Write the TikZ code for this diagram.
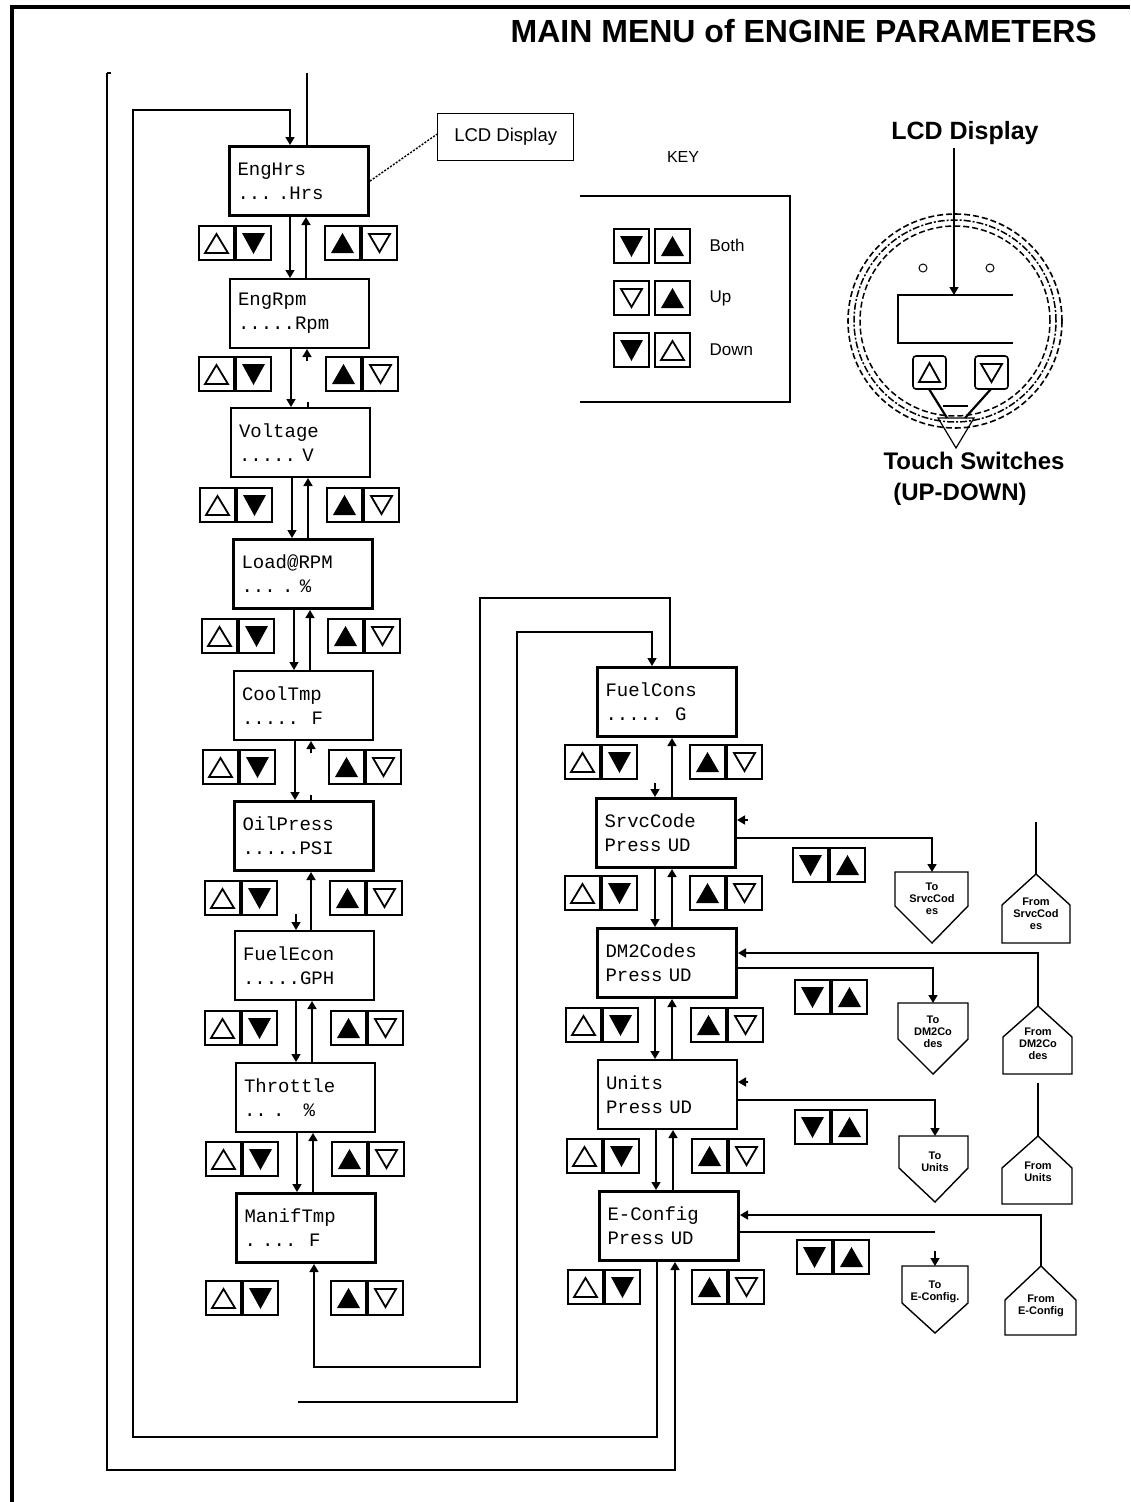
\documentclass[tikz,border=0pt]{standalone}
\usepackage{fontspec}
\setmainfont{Liberation Sans}
\newfontfamily\lcdfont{Liberation Mono}
\usetikzlibrary{arrows.meta}

\newcommand\LPair[2]{\pic at (#1,#2) {btnuo}; \pic at (#1+37,#2) {btndf};}
\newcommand\RPair[2]{\pic at (#1,#2) {btnuf}; \pic at (#1+37,#2) {btndo};}
\newcommand\SPair[2]{\pic at (#1,#2) {btndf}; \pic at (#1+37,#2) {btnuf};}
\newcommand\DownC[3]{\draw[arr] ([xshift=#3pt]#1.south west) -- ([xshift=#3pt]#1.south west |- #2.north);}
\newcommand\UpC[3]{\draw[arr] ([xshift=#3pt]#1.south west |- #2.north) -- ([xshift=#3pt]#1.south west);}
\newcommand\ToPent[9]{\draw[pent] (#2,#4) -- (#3,#4) -- (#3,#5) -- (#6,#7) -- (#2,#5) -- cycle;
  \coordinate (#1t) at (#6,#4); \node[tofrom] (#1) at (#6,#8) {#9};}
\newcommand\FromPent[9]{\draw[pent] (#4,#5) -- (#3,#6) -- (#3,#7) -- (#2,#7) -- (#2,#6) -- cycle;
  \coordinate (#1a) at (#4,#5); \node[tofrom] (#1) at (#4,#8) {#9};}

\tikzset{
  conn/.style={line width=1.6pt},
  arr/.style={conn, -{Triangle[length=8pt,width=9pt]}},
  lcd/.style={draw, anchor=north west, minimum width=139pt, minimum height=69pt,
    text width=123pt, inner xsep=8pt, inner ysep=0pt, align=left,
    font=\lcdfont\fontsize{19}{24}\selectfont},
  thk/.style={line width=3pt},
  med/.style={line width=2pt},
  pent/.style={line width=1.4pt, line join=miter},
  tofrom/.style={font=\bfseries\fontsize{11}{12}\selectfont, align=center, inner sep=0pt},
  btnframe/.style={line width=1.6pt},
  btnuo/.pic={\draw[btnframe] (0,0) rectangle (35,34); \draw[line width=1.8pt] (6,27) -- (29,27) -- (17.5,8) -- cycle;},
  btndf/.pic={\draw[btnframe] (0,0) rectangle (35,34); \fill (6,7) -- (29,7) -- (17.5,28) -- cycle;},
  btnuf/.pic={\draw[btnframe] (0,0) rectangle (35,34); \fill (6,27) -- (29,27) -- (17.5,7) -- cycle;},
  btndo/.pic={\draw[btnframe] (0,0) rectangle (35,34); \draw[line width=1.8pt] (7,8) -- (28,8) -- (17.5,26) -- cycle;},
}

\begin{document}
\begin{tikzpicture}[x=1pt,y=-1pt]
\useasboundingbox (0,0) rectangle (1130,1502);
\fill[white] (0,0) rectangle (1130,1502);

% frame
\draw[line width=3.5pt] (12,1502) -- (12,7) -- (1130,7);

% title
\node[anchor=east, font=\bfseries\fontsize{32}{32}\selectfont, inner sep=0pt] (title) at (1097,31) {MAIN MENU of ENGINE PARAMETERS};

% left column LCD boxes
\node[lcd,thk] (b0) at (228,145)  {EngHrs\\...~.Hrs};
\node[lcd,med] (b1) at (229,278)  {EngRpm\\.....Rpm};
\node[lcd,med] (b2) at (230,407)  {Voltage\\.....~V};
\node[lcd,thk] (b3) at (232,538)  {Load@RPM\\...~.~\%};
\node[lcd,med] (b4) at (233,670)  {CoolTmp\\.....~~F};
\node[lcd,thk] (b5) at (233,800)  {OilPress\\.....PSI};
\node[lcd,med] (b6) at (234,930)  {FuelEcon\\.....GPH};
\node[lcd,med] (b7) at (235,1062) {Throttle\\..~.~~~\%};
\node[lcd,thk] (b8) at (235,1192) {ManifTmp\\.~...~~F};

% right column LCD boxes
\node[lcd,thk] (r0) at (596,666)  {FuelCons\\.....~~G};
\node[lcd,thk] (r1) at (595,797)  {SrvcCode\\Press~UD};
\node[lcd,thk] (r2) at (596,927)  {DM2Codes\\Press~UD};
\node[lcd,med] (r3) at (597,1059) {Units\\Press~UD};
\node[lcd,thk] (r4) at (598,1190) {E-Config\\Press~UD};

% left column buttons
\LPair{199}{226}  \RPair{325}{226}
\LPair{199}{357}  \RPair{326}{357}
\LPair{200}{488}  \RPair{327}{488}
\LPair{202}{619}  \RPair{328}{619}
\LPair{203}{750}  \RPair{329}{750}
\LPair{205}{881}  \RPair{330}{881}
\LPair{205}{1011} \RPair{331}{1011}
\LPair{206}{1142} \RPair{332}{1142}
\LPair{206}{1281} \RPair{331}{1281}

% right column buttons
\LPair{565}{745}  \RPair{690}{745}
\LPair{565}{876}  \RPair{690}{876}
\LPair{566}{1008} \RPair{691}{1008}
\LPair{567}{1139} \RPair{692}{1139}
\LPair{568}{1270} \RPair{692}{1270}

% side button pairs
\SPair{793}{848}
\SPair{795}{980}
\SPair{795}{1110}
\SPair{797}{1240}

% left column vertical connectors
\DownC{b0}{b1}{62} \UpC{b0}{b1}{78}
\DownC{b1}{b2}{62}
\draw[arr] ([xshift=78pt,yshift=-12pt]b1.south west) -- ([xshift=78pt]b1.south west);
\draw[conn] ([xshift=78pt]b2.north west) -- ([xshift=78pt,yshift=5pt]b2.north west);
\DownC{b2}{b3}{62} \UpC{b2}{b3}{78}
\DownC{b3}{b4}{62} \UpC{b3}{b4}{78}
\DownC{b4}{b5}{62}
\draw[arr] ([xshift=78pt,yshift=-12pt]b4.south west) -- ([xshift=78pt]b4.south west);
\draw[conn] ([xshift=78pt]b5.north west) -- ([xshift=78pt,yshift=5pt]b5.north west);
\draw[arr] ([xshift=62pt,yshift=16pt]b6.north west) -- ([xshift=62pt]b6.north west);
\UpC{b5}{b6}{78}
\DownC{b6}{b7}{62} \UpC{b6}{b7}{78}
\DownC{b7}{b8}{62} \UpC{b7}{b8}{78}

% right column vertical connectors
\draw[arr] ([xshift=60pt,yshift=14pt]r1.north west) -- ([xshift=60pt]r1.north west);
\UpC{r0}{r1}{76}
\DownC{r1}{r2}{60} \UpC{r1}{r2}{77}
\DownC{r2}{r3}{59} \UpC{r2}{r3}{76}
\DownC{r3}{r4}{59} \UpC{r3}{r4}{76}

% loops
\draw[arr] ([xshift=74pt]r0.north west) |- (480,598) -- (480,1367) -| ([xshift=79pt]b8.south west);
\coordinate (fb) at (298,1402);
\draw[arr] (fb) -| (517,632) -| ([xshift=56pt]r0.north west);
\draw[arr] ([xshift=59pt]r4.south west) |- (133,1437) -- (133,110) -| ([xshift=62pt]b0.north west);
\coordinate (fa) at (107,73);
\draw[conn] (111,73) -- (fa);
\draw[arr] (fa) -- (107,1470) -| ([xshift=77pt]r4.south west);
\coordinate (fc) at (307,73);
\draw[conn] (fc) -- (fc |- b0.north);

% LCD display callout
\node[draw, line width=1.4pt, anchor=north west, minimum width=136pt, minimum height=47pt,
  font=\fontsize{18.5}{18.5}\selectfont] (lcdc) at (437,113) {LCD Display};
\draw[dash pattern=on 2pt off 1.5pt, line width=1.4pt] (b0.east) -- ([yshift=3pt]lcdc.west);

% To / From pentagons
\ToPent{to1}{895}{968}{872}{906}{932}{943}{899}{To\\SrvcCod\\es}
\ToPent{to2}{898}{968}{1003}{1039}{933}{1074}{1032}{To\\DM2Co\\des}
\ToPent{to3}{899}{968}{1136}{1168}{935}{1202}{1162}{To\\Units}
\ToPent{to4}{902}{968}{1266}{1303}{935}{1333}{1292}{To\\E-Config.}
\FromPent{fr1}{1002}{1070}{1036}{874}{905}{943}{914}{From\\SrvcCod\\es}
\FromPent{fr2}{1003}{1072}{1038}{1006}{1037}{1074}{1044}{From\\DM2Co\\des}
\FromPent{fr3}{1002}{1072}{1038}{1136}{1168}{1204}{1172}{From\\Units}
\FromPent{fr4}{1005}{1076}{1041}{1266}{1300}{1335}{1306}{From\\E-Config}

% side connections
\coordinate (s1) at (748,820);
\draw[arr] (s1) -- (s1 -| r1.east);
\draw[arr] ([yshift=-41pt]r1.north east) -| (to1t);
\coordinate (fr1e) at (1036,822);
\draw[conn] (fr1a) -- (fr1e);
\draw[arr] (fr2a) |- ([yshift=-26pt]r2.north east);
\draw[arr] ([yshift=-41pt]r2.north east) -| (to2t);
\coordinate (s3) at (748,1082);
\draw[arr] (s3) -- (s3 -| r3.east);
\draw[arr] ([yshift=-41pt]r3.north east) -| (to3t);
\coordinate (fr3e) at (1038,1083);
\draw[conn] (fr3a) -- (fr3e);
\draw[arr] (fr4a) |- ([yshift=-25pt]r4.north east);
\coordinate (t4e) at (935,1232);
\draw[conn] (t4e -| r4.east) -- (t4e);
\coordinate (t4s) at (935,1251);
\draw[arr] (t4s) -- (to4t);

% KEY
\node[font=\fontsize{16}{16}\selectfont] (keyt) at (683,157) {KEY};
\draw[line width=1.5pt] (580,196) -- (790,196) -- (790,402) -- (580,402);
\pic at (614,229) {btndf}; \pic at (655,229) {btnuf};
\pic at (614,281) {btndo}; \pic at (655,281) {btnuf};
\pic at (614,333) {btndf}; \pic at (655,333) {btnuo};
\node[anchor=west, font=\fontsize{17}{17}\selectfont] (kb) at (706,245) {Both};
\node[anchor=west, font=\fontsize{17}{17}\selectfont] (ku) at (706,298) {Up};
\node[anchor=west, font=\fontsize{17}{17}\selectfont] (kd) at (706,350) {Down};

% device
\node[font=\bfseries\fontsize{25}{25}\selectfont] (lcdl) at (965,133) {LCD Display};
\draw[dash pattern=on 6pt off 3pt, line width=1.6pt] (955,321) circle[radius=107pt];
\draw[dash pattern=on 7pt off 2pt on 2pt off 2pt, line width=1.5pt] (955,321) circle[radius=101pt];
\draw[dash pattern=on 6pt off 3pt, line width=1.5pt] (955,321) circle[radius=95pt];
\draw[line width=1.6pt] (1013,295) -- (898,295) -- (898,343) -- (1013,343);
\coordinate (disptop) at (954,295);
\draw[arr, line width=1.3pt] (lcdl.south -| disptop) -- (disptop);
\draw[line width=1pt] (923,268) circle[radius=4pt];
\draw[line width=1pt] (990,268) circle[radius=4pt];
\draw[line width=1.6pt, rounded corners=3pt] (913,356) rectangle (946,389);
\draw[line width=1.8pt] (919,382) -- (940,382) -- (929.5,363) -- cycle;
\draw[line width=1.6pt, rounded corners=3pt] (975,356) rectangle (1008,389);
\draw[line width=1.8pt] (981,364) -- (1002,364) -- (991.5,382) -- cycle;
\draw[line width=2.2pt] (929,389) -- (947,418);
\draw[line width=2.2pt] (991,389) -- (965,418);
\draw[line width=1.2pt] (943,406) -- (968,406);
\draw[line width=1.2pt] (938,418) -- (974,418) -- (956,448) -- cycle;
\node[font=\bfseries\fontsize{24}{24}\selectfont] (ts1) at (974,461) {Touch Switches};
\node[font=\bfseries\fontsize{24}{24}\selectfont] (ts2) at (960,494) {(UP-DOWN)};
\end{tikzpicture}
\end{document}
